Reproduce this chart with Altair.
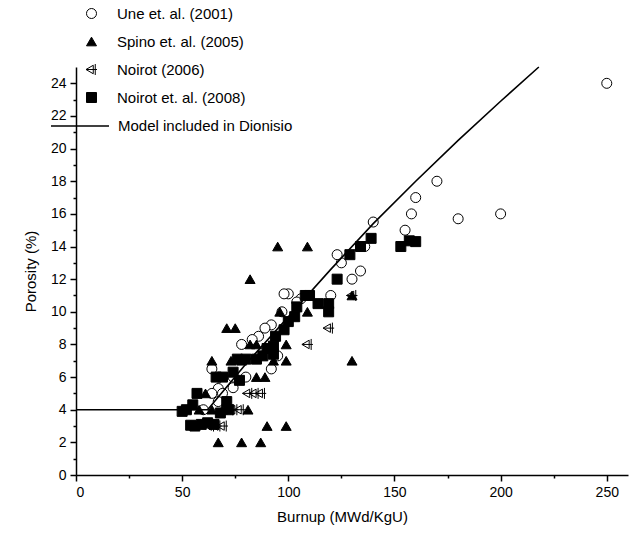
import altair as alt
import pandas as pd

# ---- data ----
une_x = [250, 200, 180, 170, 160, 158, 155, 140, 136, 134, 130, 125, 123, 120, 108, 106, 104,
         100, 98, 97, 92, 89, 86, 83, 78, 95, 92, 64, 74, 80, 74, 67, 64, 69, 67, 60]
une_y = [24, 16, 15.7, 18, 17, 16, 15, 15.5, 14, 12.5, 12, 13, 13.5, 11, 11, 10.8, 10.6,
         11.1, 11.1, 10, 9.2, 9, 8.5, 8.3, 8, 7.3, 6.5, 6.5, 6, 6, 5.35, 5.3, 5, 5, 4.5, 4]

spino_x = [95, 109, 82, 71, 75, 96, 109, 130, 130, 64, 73, 78, 82, 85, 99, 85, 89, 99, 93,
           61, 58, 64, 69, 72, 81, 67, 78, 87, 90, 99]
spino_y = [14, 14, 12, 9, 9, 10, 10, 11, 7, 7, 7, 7, 8, 8, 8, 6, 6, 7, 7,
           5, 4, 4, 4, 4.2, 4, 2, 2, 2, 3, 3]

noirot06_x = [130, 119, 109, 81, 84, 87, 74, 77, 72, 66, 69, 63]
noirot06_y = [11, 9, 8, 5, 5, 5, 4, 4, 4, 3, 3, 3]

noirot08_x = [160, 157, 153, 139, 134, 129, 123, 119, 119, 114, 110, 108, 104, 103, 100, 98,
              94, 93, 90, 88, 85, 80, 76, 77, 74, 69, 66, 71, 68, 57, 55, 52, 50, 54, 56, 59,
              62, 65, 93, 72]
noirot08_y = [14.3, 14.35, 14, 14.5, 14, 13.5, 12, 10.5, 10, 10.5, 11, 11, 10.3, 9.7, 9.4, 8.9,
              8.5, 7.9, 7.75, 7.3, 7.1, 7.1, 7.1, 5.8, 6.3, 6, 6, 4.5, 3.8, 5, 4.3, 4, 3.9, 3.05,
              3, 3.1, 3.2, 3.1, 7.4, 4]

model_x = [0, 62, 80, 100, 120, 140, 160, 180, 200, 218]
model_y = [4, 4, 6.8, 9.7, 12.6, 15.4, 18.0, 20.5, 22.9, 25]

x_ticks = [0, 25, 50, 75, 100, 125, 150, 175, 200, 225, 250]
y_ticks = [0, 1, 2, 3, 4, 5, 6, 7, 8, 9, 10, 11, 12, 13, 14, 15, 16, 17, 18, 19, 20, 21, 22, 23, 24]

series_names = ["Une et. al. (2001)", "Spino et. al. (2005)", "Noirot (2006)", "Noirot et. al. (2008)"]
model_name = "Model included in Dionisio"

rows = []
for i, (name, xs, ys) in enumerate(zip(series_names,
                                       [une_x, spino_x, noirot06_x, noirot08_x],
                                       [une_y, spino_y, noirot06_y, noirot08_y])):
    for xv, yv in zip(xs, ys):
        rows.append({"series": name, "burnup": xv, "porosity": yv, "ord": i})
pts = pd.DataFrame(rows)
model = pd.DataFrame({"burnup": model_x, "porosity": model_y, "series": model_name})

noirot_path = "M -1.1 0 L 0.35 -0.85 L 0.35 0.85 Z M -1.1 0 L 1.1 0 M 0.75 -1.1 L 0.75 1.1"

FONT = "Liberation Sans"

x_scale = alt.Scale(domain=[0, 260], nice=False, zero=False)
y_scale = alt.Scale(domain=[0, 25], nice=False, zero=False)


def x_axis():
    return alt.Axis(
        title="Burnup (MWd/KgU)",
        values=x_ticks,
        labelExpr="datum.value % 50 == 0 ? datum.label : ''",
        tickSize=alt.ExprRef("datum.value % 50 == 0 ? 6 : 3"),
        labelOverlap=False, grid=False, labelPadding=4, titlePadding=10,
        titleX=266,
    )


def y_axis():
    return alt.Axis(
        title="Porosity (%)",
        values=y_ticks,
        labelExpr="datum.value % 2 == 0 ? datum.label : ''",
        tickSize=alt.ExprRef("datum.value % 2 == 0 ? 6 : 3"),
        labelOverlap=False, grid=False, labelPadding=4, titlePadding=12,
    )


def series_legend():
    return alt.Legend(title=None, orient="none", legendX=8, legendY=-61,
                      symbolSize=100, labelFontSize=15, labelFont=FONT,
                      labelColor="black", labelOffset=18, rowPadding=12,
                      symbolStrokeWidth=1, labelLimit=400)


points = alt.Chart(pts).mark_point(size=100, strokeWidth=1, opacity=1).encode(
    x=alt.X("burnup:Q", scale=x_scale, axis=x_axis()),
    y=alt.Y("porosity:Q", scale=y_scale, axis=y_axis()),
    shape=alt.Shape("series:N", scale=alt.Scale(domain=series_names,
                    range=["circle", "triangle-up", noirot_path, "square"]),
                    legend=series_legend()),
    fill=alt.Fill("series:N", scale=alt.Scale(domain=series_names,
                  range=["white", "black", "transparent", "black"]),
                  legend=series_legend()),
    stroke=alt.Stroke("series:N", scale=alt.Scale(domain=series_names,
                      range=["black", "black", "black", "black"]),
                      legend=series_legend()),
    order=alt.Order("ord:Q"),
)

line = alt.Chart(model).mark_line(strokeWidth=1.6).encode(
    x=alt.X("burnup:Q", scale=x_scale, axis=x_axis()),
    y=alt.Y("porosity:Q", scale=y_scale, axis=y_axis()),
    color=alt.Color("series:N", scale=alt.Scale(domain=[model_name], range=["black"]),
                    legend=alt.Legend(title=None, orient="none", legendX=-26, legendY=29,
                                      symbolType="stroke", symbolSize=3364,
                                      symbolStrokeWidth=1.6, labelFontSize=15,
                                      labelFont=FONT, labelColor="black", labelOffset=8,
                                      labelLimit=400)),
)

chart = alt.layer(points, line).resolve_scale(color="independent").properties(
    width=552, height=408,
    autosize=alt.AutoSizeParams(type="none"),
    padding={"left": 76, "top": 67, "right": 4, "bottom": 61},
    background="white",
).configure_view(stroke=None).configure_axis(
    domainColor="black", domainWidth=1.5, tickColor="black", tickWidth=1.5,
    labelColor="black", labelFont=FONT, labelFontSize=14,
    titleColor="black", titleFont=FONT, titleFontSize=15, titleFontWeight="normal",
)

chart.save("out.html", embed_options={"renderer": "svg", "actions": False})
